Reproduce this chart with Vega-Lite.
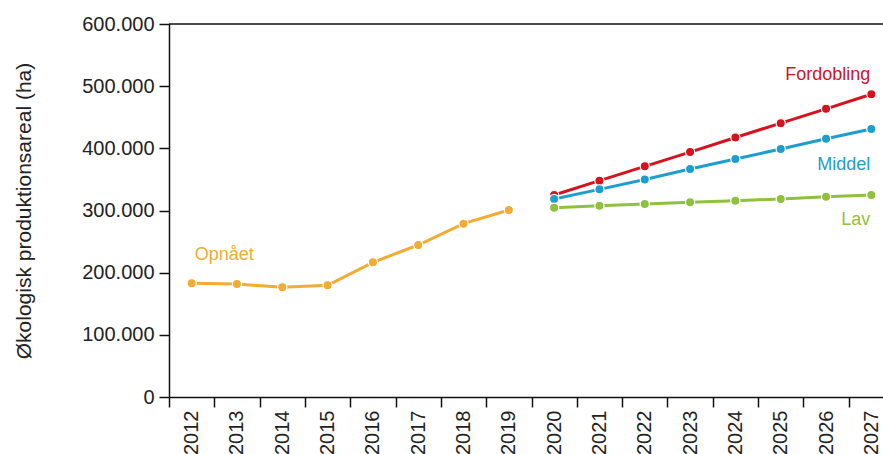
{
  "$schema": "https://vega.github.io/schema/vega-lite/v6.json",
  "autosize": {"type": "none"},
  "padding": {"left": 169, "top": 24, "right": 0, "bottom": 57},
  "width": 714,
  "height": 373,
  "background": "white",
  "config": {
    "view": {"stroke": null},
    "font": "Liberation Sans",
    "axis": {"grid": false, "domainColor": "#111", "tickColor": "#111", "labelColor": "#222", "titleColor": "#222", "domainWidth": 1.5, "tickWidth": 1.5}
  },
  "datasets": {
    "series": [
      {"year": 2012, "series": "Opnået", "value": 183000},
      {"year": 2013, "series": "Opnået", "value": 181700},
      {"year": 2014, "series": "Opnået", "value": 176400},
      {"year": 2015, "series": "Opnået", "value": 179600},
      {"year": 2016, "series": "Opnået", "value": 216600},
      {"year": 2017, "series": "Opnået", "value": 244500},
      {"year": 2018, "series": "Opnået", "value": 278800},
      {"year": 2019, "series": "Opnået", "value": 300800},
      {"year": 2020, "series": "Fordobling", "value": 325000},
      {"year": 2021, "series": "Fordobling", "value": 348000},
      {"year": 2022, "series": "Fordobling", "value": 371000},
      {"year": 2023, "series": "Fordobling", "value": 394000},
      {"year": 2024, "series": "Fordobling", "value": 417500},
      {"year": 2025, "series": "Fordobling", "value": 440500},
      {"year": 2026, "series": "Fordobling", "value": 463500},
      {"year": 2027, "series": "Fordobling", "value": 487000},
      {"year": 2020, "series": "Middel", "value": 318500},
      {"year": 2021, "series": "Middel", "value": 334000},
      {"year": 2022, "series": "Middel", "value": 350000},
      {"year": 2023, "series": "Middel", "value": 366700},
      {"year": 2024, "series": "Middel", "value": 382800},
      {"year": 2025, "series": "Middel", "value": 398900},
      {"year": 2026, "series": "Middel", "value": 415500},
      {"year": 2027, "series": "Middel", "value": 431000},
      {"year": 2020, "series": "Lav", "value": 304500},
      {"year": 2021, "series": "Lav", "value": 307800},
      {"year": 2022, "series": "Lav", "value": 310400},
      {"year": 2023, "series": "Lav", "value": 313100},
      {"year": 2024, "series": "Lav", "value": 315800},
      {"year": 2025, "series": "Lav", "value": 318500},
      {"year": 2026, "series": "Lav", "value": 322200},
      {"year": 2027, "series": "Lav", "value": 324900}
    ],
    "leftLabels": [
      {"year": 2012, "series": "Opnået", "value": 228000}
    ],
    "rightLabels": [
      {"year": 2027, "series": "Fordobling", "value": 518000},
      {"year": 2027, "series": "Middel", "value": 373000},
      {"year": 2027, "series": "Lav", "value": 284700}
    ]
  },
  "layer": [
    {
      "data": {"name": "series"},
      "mark": {"type": "line", "strokeWidth": 3},
      "encoding": {
        "x": {
          "field": "year", "type": "ordinal", "bandPosition": 0.5,
          "scale": {"type": "band", "domain": [2012, 2013, 2014, 2015, 2016, 2017, 2018, 2019, 2020, 2021, 2022, 2023, 2024, 2025, 2026, 2027], "range": [0, 725], "paddingInner": 0, "paddingOuter": 0},
          "axis": {"title": null, "labelAngle": -90, "tickBand": "extent", "labelFontSize": 20, "labelPadding": 3, "tickSize": 10}
        },
        "y": {
          "field": "value", "type": "quantitative",
          "scale": {"domain": [0, 600000], "nice": false},
          "axis": {"title": "Økologisk produktionsareal (ha)", "titleFontSize": 21, "titleFontWeight": "normal", "titlePadding": 47, "values": [0, 100000, 200000, 300000, 400000, 500000, 600000], "labelExpr": "replace(format(datum.value, ','), ',', '.')", "labelFontSize": 20, "labelPadding": 5, "tickSize": 10}
        },
        "color": {
          "field": "series", "type": "nominal", "legend": null,
          "scale": {"domain": ["Opnået", "Fordobling", "Middel", "Lav"], "range": ["#F2AB33", "#D5121E", "#1E9DCF", "#8FC13E"]}
        },
        "order": {"field": "year"}
      }
    },
    {
      "data": {"name": "series"},
      "mark": {"type": "circle", "size": 85, "opacity": 1, "stroke": "white", "strokeWidth": 1.2},
      "encoding": {
        "x": {"field": "year", "type": "ordinal", "bandPosition": 0.5},
        "y": {"field": "value", "type": "quantitative", "title": "Økologisk produktionsareal (ha)"},
        "color": {"field": "series", "type": "nominal", "legend": null}
      }
    },
    {
      "data": {"name": "leftLabels"},
      "mark": {"type": "text", "align": "left", "baseline": "middle", "dx": 3, "fontSize": 18},
      "encoding": {
        "x": {"field": "year", "type": "ordinal", "bandPosition": 0.5},
        "y": {"field": "value", "type": "quantitative", "title": "Økologisk produktionsareal (ha)"},
        "text": {"field": "series"},
        "color": {"field": "series", "type": "nominal", "legend": null}
      }
    },
    {
      "data": {"name": "rightLabels"},
      "mark": {"type": "text", "align": "right", "baseline": "middle", "dx": -1, "fontSize": 18},
      "encoding": {
        "x": {"field": "year", "type": "ordinal", "bandPosition": 0.5},
        "y": {"field": "value", "type": "quantitative", "title": "Økologisk produktionsareal (ha)"},
        "text": {"field": "series"},
        "color": {"field": "series", "type": "nominal", "legend": null}
      }
    },
    {
      "data": {"values": [{}]},
      "mark": {"type": "rule", "color": "#111", "strokeWidth": 1.5},
      "encoding": {"y": {"datum": 600000, "type": "quantitative"}}
    }
  ]
}
